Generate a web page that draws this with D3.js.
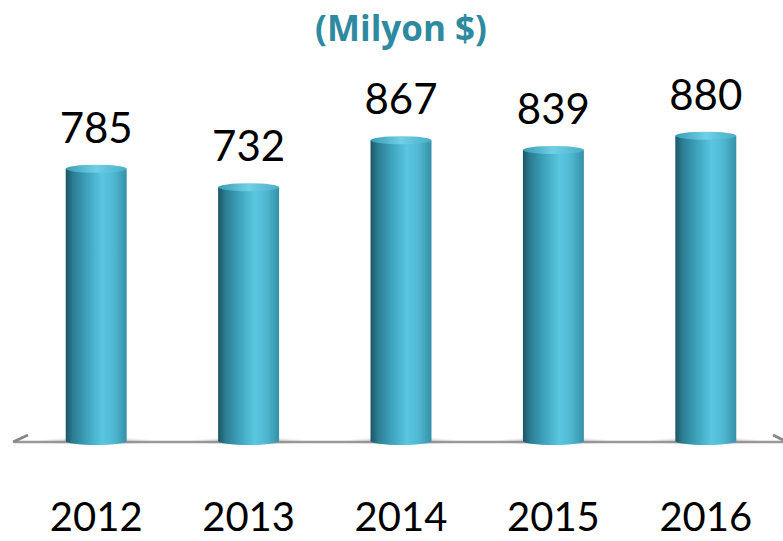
<!DOCTYPE html>
<html><head><meta charset="utf-8">
<script src="https://cdn.jsdelivr.net/npm/d3@7"></script>
<style>body{margin:0;background:#fff}svg{display:block}</style>
</head><body>
<script>
const categories = ["2012","2013","2014","2015","2016"];
const values = [785,732,867,839,880];
const titleText = "(Milyon $)";

const W=783,H=541;
const svg=d3.select("body").append("svg").attr("width",W).attr("height",H);
const defs=svg.append("defs");
const g1=defs.append("linearGradient").attr("id","cyl").attr("x1","0").attr("x2","1").attr("y1","0").attr("y2","0");
[[0,"#1c5565"],[0.12,"#2b7d92"],[0.35,"#3ea3bd"],[0.6,"#5ac6e0"],[0.8,"#4fb6d0"],[1,"#3490a8"]].forEach(s=>g1.append("stop").attr("offset",s[0]).attr("stop-color",s[1]));
const g2=defs.append("linearGradient").attr("id","topg").attr("x1","0").attr("x2","1");
[[0,"#3a9db6"],[0.5,"#6fd0e6"],[1,"#4aaec8"]].forEach(s=>g2.append("stop").attr("offset",s[0]).attr("stop-color",s[1]));
const sh=defs.append("radialGradient").attr("id","shadow");
sh.append("stop").attr("offset",0).attr("stop-color","#888").attr("stop-opacity",0.6);
sh.append("stop").attr("offset",1).attr("stop-color","#888").attr("stop-opacity",0);

const x=d3.scaleBand().domain(categories).range([20,782]).paddingInner(0.6).paddingOuter(0.3);
const y=d3.scaleLinear().domain([0,1000]).range([442,94]);

svg.append("text").attr("x",401).attr("y",41).attr("text-anchor","middle")
 .attr("font-family","Open Sans, Lato, sans-serif").attr("font-weight","bold").attr("font-size",35)
 .attr("fill","#2e8aa0").text(titleText);

// floor
svg.append("line").attr("x1",14).attr("x2",783).attr("y1",442).attr("y2",442).attr("stroke","#999").attr("stroke-width",2.5);
svg.append("line").attr("x1",13).attr("y1",442).attr("x2",28).attr("y2",435).attr("stroke","#888").attr("stroke-width",3);
svg.append("line").attr("x1",773).attr("y1",435).attr("x2",783).attr("y2",440).attr("stroke","#888").attr("stroke-width",3);

const bars=svg.selectAll("g.bar").data(categories.map((c,i)=>({c,v:values[i]}))).join("g");
const ry=4;
bars.append("ellipse").attr("cx",d=>x(d.c)+x.bandwidth()/2).attr("cy",441).attr("rx",x.bandwidth()*0.95).attr("ry",4).attr("fill","url(#shadow)");
bars.append("path").attr("d",d=>{
  const x0=x(d.c),x1=x0+x.bandwidth(),t=y(d.v),b=441,rx=x.bandwidth()/2;
  return `M${x0},${t} L${x0},${b} A${rx},${ry} 0 0 0 ${x1},${b} L${x1},${t} Z`;
}).attr("fill","url(#cyl)");
bars.append("ellipse").attr("cx",d=>x(d.c)+x.bandwidth()/2).attr("cy",d=>y(d.v)).attr("rx",x.bandwidth()/2).attr("ry",ry).attr("fill","url(#topg)");
bars.append("text").attr("x",d=>x(d.c)+x.bandwidth()/2).attr("y",d=>y(d.v)-26).attr("text-anchor","middle")
 .attr("font-family","Lato, Open Sans, sans-serif").attr("font-size",42).attr("fill","#000").text(d=>d.v);
bars.append("text").attr("x",d=>x(d.c)+x.bandwidth()/2).attr("y",531).attr("text-anchor","middle")
 .attr("font-family","Lato, Open Sans, sans-serif").attr("font-size",40).attr("fill","#000").text(d=>d.c);
</script>
</body></html>
